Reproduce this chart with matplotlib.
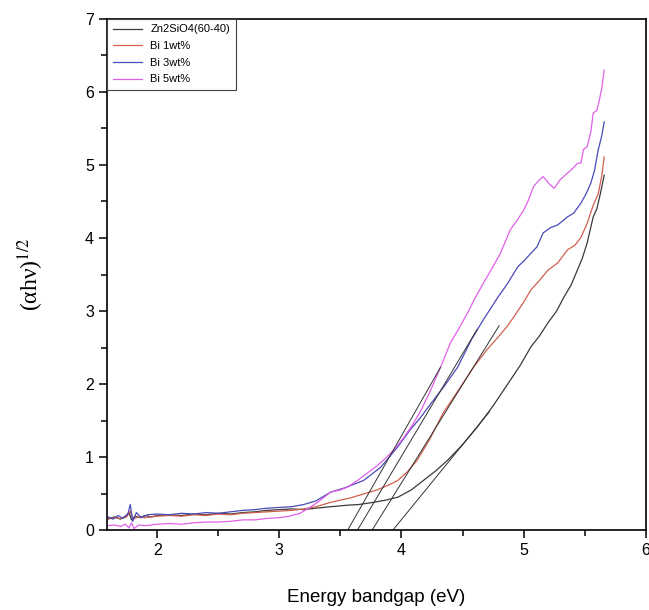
import matplotlib
matplotlib.use('Agg')
import matplotlib.pyplot as plt
from matplotlib.ticker import MultipleLocator

plt.rcParams['font.family'] = ['Liberation Sans', 'DejaVu Sans']
plt.rcParams['mathtext.fontset'] = 'stix'

# Zn2SiO4(60-40)
x_zn = [1.60, 1.65, 1.70, 1.74, 1.77, 1.79, 1.82, 1.86, 1.90, 1.95, 2.00, 2.10, 2.20, 2.30,
        2.40, 2.50, 2.60, 2.70, 2.80, 2.90, 3.00, 3.10, 3.20, 3.30, 3.42, 3.55, 3.65, 3.77,
        3.87, 3.97, 4.08, 4.18, 4.28, 4.38, 4.50, 4.62, 4.75, 4.89, 4.97, 5.06, 5.13, 5.20,
        5.27, 5.33, 5.39, 5.44, 5.48, 5.52, 5.57, 5.60, 5.63, 5.66]
y_zn = [0.16, 0.18, 0.15, 0.19, 0.24, 0.14, 0.19, 0.17, 0.20, 0.18, 0.20, 0.21, 0.20, 0.22,
        0.21, 0.23, 0.22, 0.24, 0.25, 0.27, 0.28, 0.29, 0.28, 0.30, 0.32, 0.34, 0.35, 0.38,
        0.41, 0.45, 0.55, 0.68, 0.81, 0.96, 1.17, 1.41, 1.70, 2.05, 2.25, 2.51, 2.66, 2.84,
        3.00, 3.19, 3.36, 3.56, 3.72, 3.93, 4.29, 4.40, 4.62, 4.86]

# Bi 1wt%
x_bi1 = [1.60, 1.65, 1.70, 1.75, 1.78, 1.80, 1.85, 1.90, 2.00, 2.10, 2.20, 2.30, 2.40, 2.50,
         2.60, 2.70, 2.80, 2.90, 3.00, 3.10, 3.20, 3.30, 3.42, 3.50, 3.58, 3.70, 3.80, 3.90,
         3.97, 4.05, 4.13, 4.23, 4.34, 4.46, 4.59, 4.70, 4.79, 4.87, 4.92, 5.00, 5.06, 5.13,
         5.20, 5.28, 5.36, 5.42, 5.47, 5.52, 5.57, 5.61, 5.64, 5.66]
y_bi1 = [0.15, 0.17, 0.16, 0.18, 0.26, 0.15, 0.18, 0.17, 0.19, 0.20, 0.19, 0.21, 0.20, 0.22,
         0.21, 0.23, 0.24, 0.25, 0.26, 0.27, 0.29, 0.32, 0.38, 0.41, 0.44, 0.50, 0.55, 0.62,
         0.68, 0.80, 0.96, 1.24, 1.60, 1.90, 2.23, 2.47, 2.64, 2.80, 2.92, 3.12, 3.29, 3.42,
         3.56, 3.66, 3.84, 3.90, 4.01, 4.20, 4.45, 4.60, 4.85, 5.11]

# Bi 3wt%
x_bi3 = [1.60, 1.64, 1.68, 1.72, 1.76, 1.78, 1.80, 1.83, 1.87, 1.92, 2.00, 2.10, 2.20, 2.30,
         2.40, 2.50, 2.60, 2.70, 2.80, 2.90, 3.00, 3.10, 3.20, 3.30, 3.42, 3.52, 3.60, 3.69,
         3.76, 3.83, 3.90, 3.97, 4.07, 4.16, 4.24, 4.35, 4.46, 4.57, 4.67, 4.79, 4.87, 4.95,
         5.01, 5.06, 5.11, 5.16, 5.22, 5.28, 5.36, 5.41, 5.47, 5.51, 5.55, 5.58, 5.61, 5.64, 5.66]
y_bi3 = [0.18, 0.15, 0.20, 0.16, 0.22, 0.35, 0.12, 0.24, 0.17, 0.21, 0.22, 0.21, 0.23, 0.22,
         0.24, 0.23, 0.25, 0.27, 0.28, 0.30, 0.31, 0.32, 0.35, 0.40, 0.52, 0.57, 0.62, 0.68,
         0.77, 0.86, 1.00, 1.14, 1.37, 1.55, 1.73, 1.97, 2.23, 2.60, 2.88, 3.19, 3.38, 3.60,
         3.70, 3.79, 3.88, 4.07, 4.14, 4.18, 4.29, 4.34, 4.48, 4.60, 4.75, 4.92, 5.20, 5.40, 5.59]

# Bi 5wt%
x_bi5 = [1.60, 1.65, 1.70, 1.74, 1.77, 1.79, 1.81, 1.85, 1.90, 2.00, 2.10, 2.20, 2.30, 2.40,
         2.50, 2.60, 2.70, 2.80, 2.90, 3.00, 3.08, 3.17, 3.25, 3.33, 3.42, 3.50, 3.56, 3.64,
         3.72, 3.80, 3.88, 3.95, 4.02, 4.09, 4.16, 4.24, 4.32, 4.40, 4.47, 4.54, 4.60, 4.67,
         4.74, 4.81, 4.89, 4.95, 5.00, 5.04, 5.08, 5.12, 5.16, 5.21, 5.25, 5.30, 5.36, 5.40,
         5.44, 5.47, 5.49, 5.52, 5.55, 5.57, 5.60, 5.62, 5.64, 5.66]
y_bi5 = [0.06, 0.07, 0.05, 0.08, 0.03, 0.10, 0.02, 0.07, 0.06, 0.08, 0.09, 0.08, 0.10, 0.11,
         0.11, 0.12, 0.14, 0.14, 0.16, 0.17, 0.19, 0.23, 0.31, 0.40, 0.52, 0.55, 0.59, 0.68,
         0.78, 0.88, 1.00, 1.12, 1.27, 1.44, 1.64, 1.92, 2.23, 2.56, 2.76, 2.97, 3.17, 3.38,
         3.58, 3.79, 4.11, 4.25, 4.38, 4.52, 4.70, 4.78, 4.84, 4.74, 4.68, 4.80, 4.89, 4.95,
         5.02, 5.03, 5.21, 5.25, 5.45, 5.71, 5.75, 5.89, 6.05, 6.30]

# Tauc extrapolation lines (x-intercept -> end point)
tan_x0 = [3.56, 3.64, 3.76, 3.93]
tan_x1 = [4.32, 4.62, 4.80, 4.72]
tan_y1 = [2.23, 2.75, 2.80, 1.62]

labels = ['Zn2SiO4(60-40)', 'Bi 1wt%', 'Bi 3wt%', 'Bi 5wt%']
colors = ['#3a3a3a', '#d0604c', '#4a4ab8', '#e060e8']

fig = plt.figure(figsize=(6.49, 6.10), dpi=100)
ax = fig.add_axes([0.165, 0.131, 0.830, 0.838])

series = [(x_zn, y_zn), (x_bi1, y_bi1), (x_bi3, y_bi3), (x_bi5, y_bi5)]
for (xs, ys), lab, c in zip(series, labels, colors):
    ax.plot(xs, ys, color=c, lw=0.9, label=lab)

for x0, x1, y1 in zip(tan_x0, tan_x1, tan_y1):
    ax.plot([x0, x1], [0, y1], color='#333333', lw=0.7)

ax.set_xlim(1.59, 6)
ax.set_ylim(0, 7)
ax.xaxis.set_major_locator(MultipleLocator(1))
ax.xaxis.set_minor_locator(MultipleLocator(0.5))
ax.yaxis.set_major_locator(MultipleLocator(1))
ax.yaxis.set_minor_locator(MultipleLocator(0.5))
ax.tick_params(which='major', direction='out', length=6, width=1.1, labelsize=11.5)
ax.tick_params(which='minor', direction='out', length=4, width=1.1)
for s in ax.spines.values():
    s.set_linewidth(1.2)

ax.set_xlabel('Energy bandgap (eV)', fontsize=13.5, labelpad=22)
ax.set_ylabel('(αhν)$^{1/2}$', fontsize=17, family=['Liberation Serif', 'DejaVu Serif'],
              labelpad=28)

leg = ax.legend(loc='upper left', bbox_to_anchor=(0.0, 1.0), borderaxespad=0, fontsize=8,
                fancybox=False, framealpha=1, edgecolor='#444444', handlelength=2.6,
                labelspacing=0.6, borderpad=0.5)
leg.get_frame().set_linewidth(0.8)

fig.savefig('out.png', dpi=100)
